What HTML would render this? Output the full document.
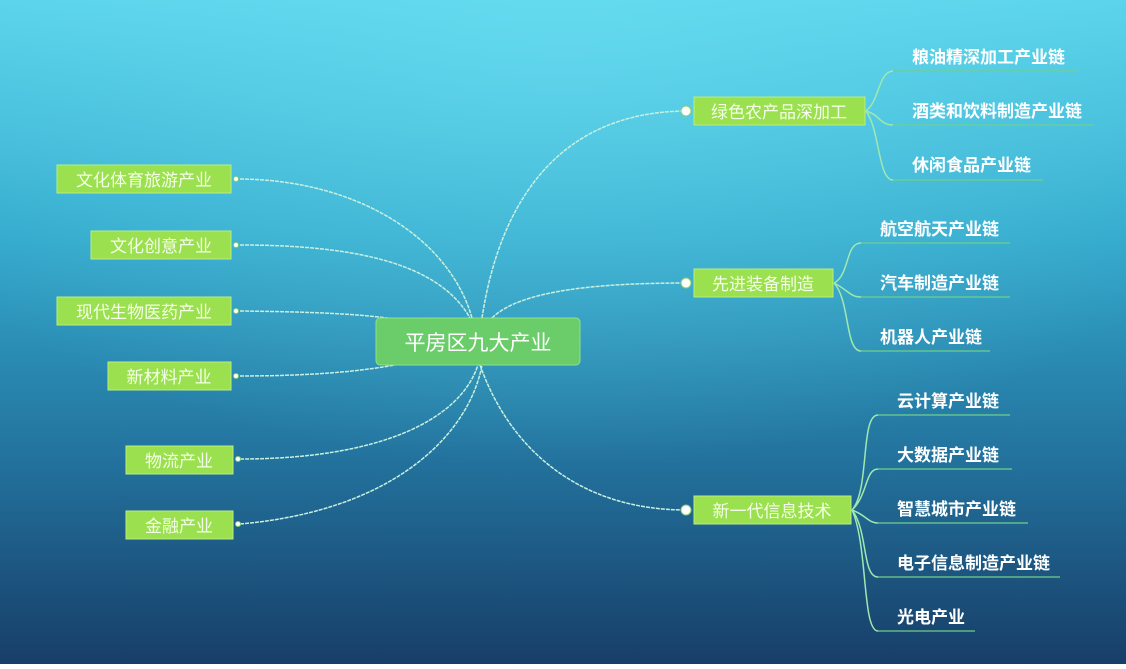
<!DOCTYPE html>
<html><head><meta charset="utf-8"><style>
html,body{margin:0;padding:0;}
body{width:1126px;height:664px;overflow:hidden;}
svg text{font-family:"Liberation Sans","Noto Sans CJK SC",sans-serif;}
</style></head><body>
<svg width="1126" height="664" viewBox="0 0 1126 664" xmlns="http://www.w3.org/2000/svg">
<defs>
<linearGradient id="bg" x1="0" y1="0" x2="0" y2="1">
<stop offset="0" stop-color="#58d2ea"/>
<stop offset="0.35" stop-color="#33a9cc"/>
<stop offset="0.7" stop-color="#22719c"/>
<stop offset="1" stop-color="#173e68"/>
</linearGradient>
<radialGradient id="glow" cx="0.5" cy="0" r="0.7">
<stop offset="0" stop-color="#6ee0f2" stop-opacity="0.6"/>
<stop offset="1" stop-color="#6ee0f2" stop-opacity="0"/>
</radialGradient>
</defs>
<rect width="1126" height="664" fill="url(#bg)"/>
<rect width="1126" height="664" fill="url(#glow)"/>
<g fill="none" stroke="#c8f0e0" stroke-width="1.5" stroke-dasharray="4 1">
<path d="M240 179 C360 180 450 240 472 318"/>
<path d="M240 245 C360 245 440 265 470 318"/>
<path d="M240 311 C330 312 370 315 400 320"/>
<path d="M240 376 C320 376 370 370 400 364"/>
<path d="M240 459 C380 459 460 420 478 365"/>
<path d="M240 524 C400 510 470 430 482 365"/>
<path d="M482 318 C500 200 560 112 686 111"/>
<path d="M492 318 C520 290 600 283 686 283"/>
<path d="M480 365 C510 450 580 510 686 510"/>
</g>
<g fill="none" stroke="#9fe8b0" stroke-width="1.5">
<path d="M866 111 C880 100 878 72 893 71 M866 111 C880 115 880 125 893 125 M866 111 C880 130 878 180 893 180"/>
<path d="M834 283 C850 275 845 243 861 243 M834 283 C848 290 850 297 861 297 M834 283 C850 300 845 351 861 351"/>
<path d="M852 510 C870 490 860 415 878 415 M852 510 C868 495 865 469 878 469 M852 510 C866 515 868 523 878 523 M852 510 C868 530 862 577 878 577 M852 510 C868 545 862 631 878 631"/>
</g>
<g stroke="#6fd08a" stroke-width="1.3">
<line x1="893" y1="71" x2="1077" y2="71"/><line x1="893" y1="125" x2="1094" y2="125"/><line x1="893" y1="180" x2="1043" y2="180"/>
<line x1="861" y1="243" x2="1010" y2="243"/><line x1="861" y1="297" x2="1010" y2="297"/><line x1="861" y1="351" x2="990" y2="351"/>
<line x1="878" y1="415" x2="1010" y2="415"/><line x1="878" y1="469" x2="1012" y2="469"/><line x1="878" y1="523" x2="1028" y2="523"/><line x1="878" y1="577" x2="1060" y2="577"/><line x1="878" y1="631" x2="975" y2="631"/>
</g>
<rect x="376" y="318" width="204" height="47" rx="4" fill="#6acd6a" stroke="#8ee08a"/>
<text x="478" y="350" font-size="21" fill="#ffffff" text-anchor="middle">平房区九大产业</text>
<g fill="#9be04e" stroke="#b8ee80" stroke-width="1">
<rect x="57" y="165" width="174" height="28"/>
<rect x="91" y="231" width="140" height="28"/>
<rect x="57" y="297" width="174" height="28"/>
<rect x="108" y="362" width="123" height="28"/>
<rect x="126" y="446" width="107" height="28"/>
<rect x="126" y="511" width="107" height="28"/>
<rect x="694" y="97" width="171" height="28"/>
<rect x="694" y="269" width="139" height="28"/>
<rect x="694" y="496" width="157" height="28"/>
</g>
<g fill="#ffffff" stroke="#8ad070" stroke-width="1">
<circle cx="236" cy="179" r="2.5"/><circle cx="236" cy="245" r="2.5"/><circle cx="236" cy="311" r="2.5"/><circle cx="236" cy="376" r="2.5"/><circle cx="238" cy="459" r="2.5"/><circle cx="238" cy="524" r="2.5"/>
<circle cx="686" cy="111" r="5"/><circle cx="686" cy="283" r="5"/><circle cx="686" cy="510" r="5"/>
</g>
<g fill="#f4ffe8" font-size="17" text-anchor="middle">
<text x="144" y="186">文化体育旅游产业</text>
<text x="161" y="252">文化创意产业</text>
<text x="144" y="318">现代生物医药产业</text>
<text x="169" y="383">新材料产业</text>
<text x="179" y="467">物流产业</text>
<text x="179" y="532">金融产业</text>
<text x="779" y="118">绿色农产品深加工</text>
<text x="763" y="290">先进装备制造</text>
<text x="772" y="517">新一代信息技术</text>
</g>
<g fill="#ffffff" font-size="17" font-weight="bold">
<text x="912" y="63">粮油精深加工产业链</text>
<text x="912" y="117">酒类和饮料制造产业链</text>
<text x="912" y="171">休闲食品产业链</text>
<text x="880" y="235">航空航天产业链</text>
<text x="880" y="289">汽车制造产业链</text>
<text x="880" y="343">机器人产业链</text>
<text x="897" y="407">云计算产业链</text>
<text x="897" y="461">大数据产业链</text>
<text x="897" y="515">智慧城市产业链</text>
<text x="897" y="569">电子信息制造产业链</text>
<text x="897" y="623">光电产业</text>
</g>
</svg>
</body></html>
